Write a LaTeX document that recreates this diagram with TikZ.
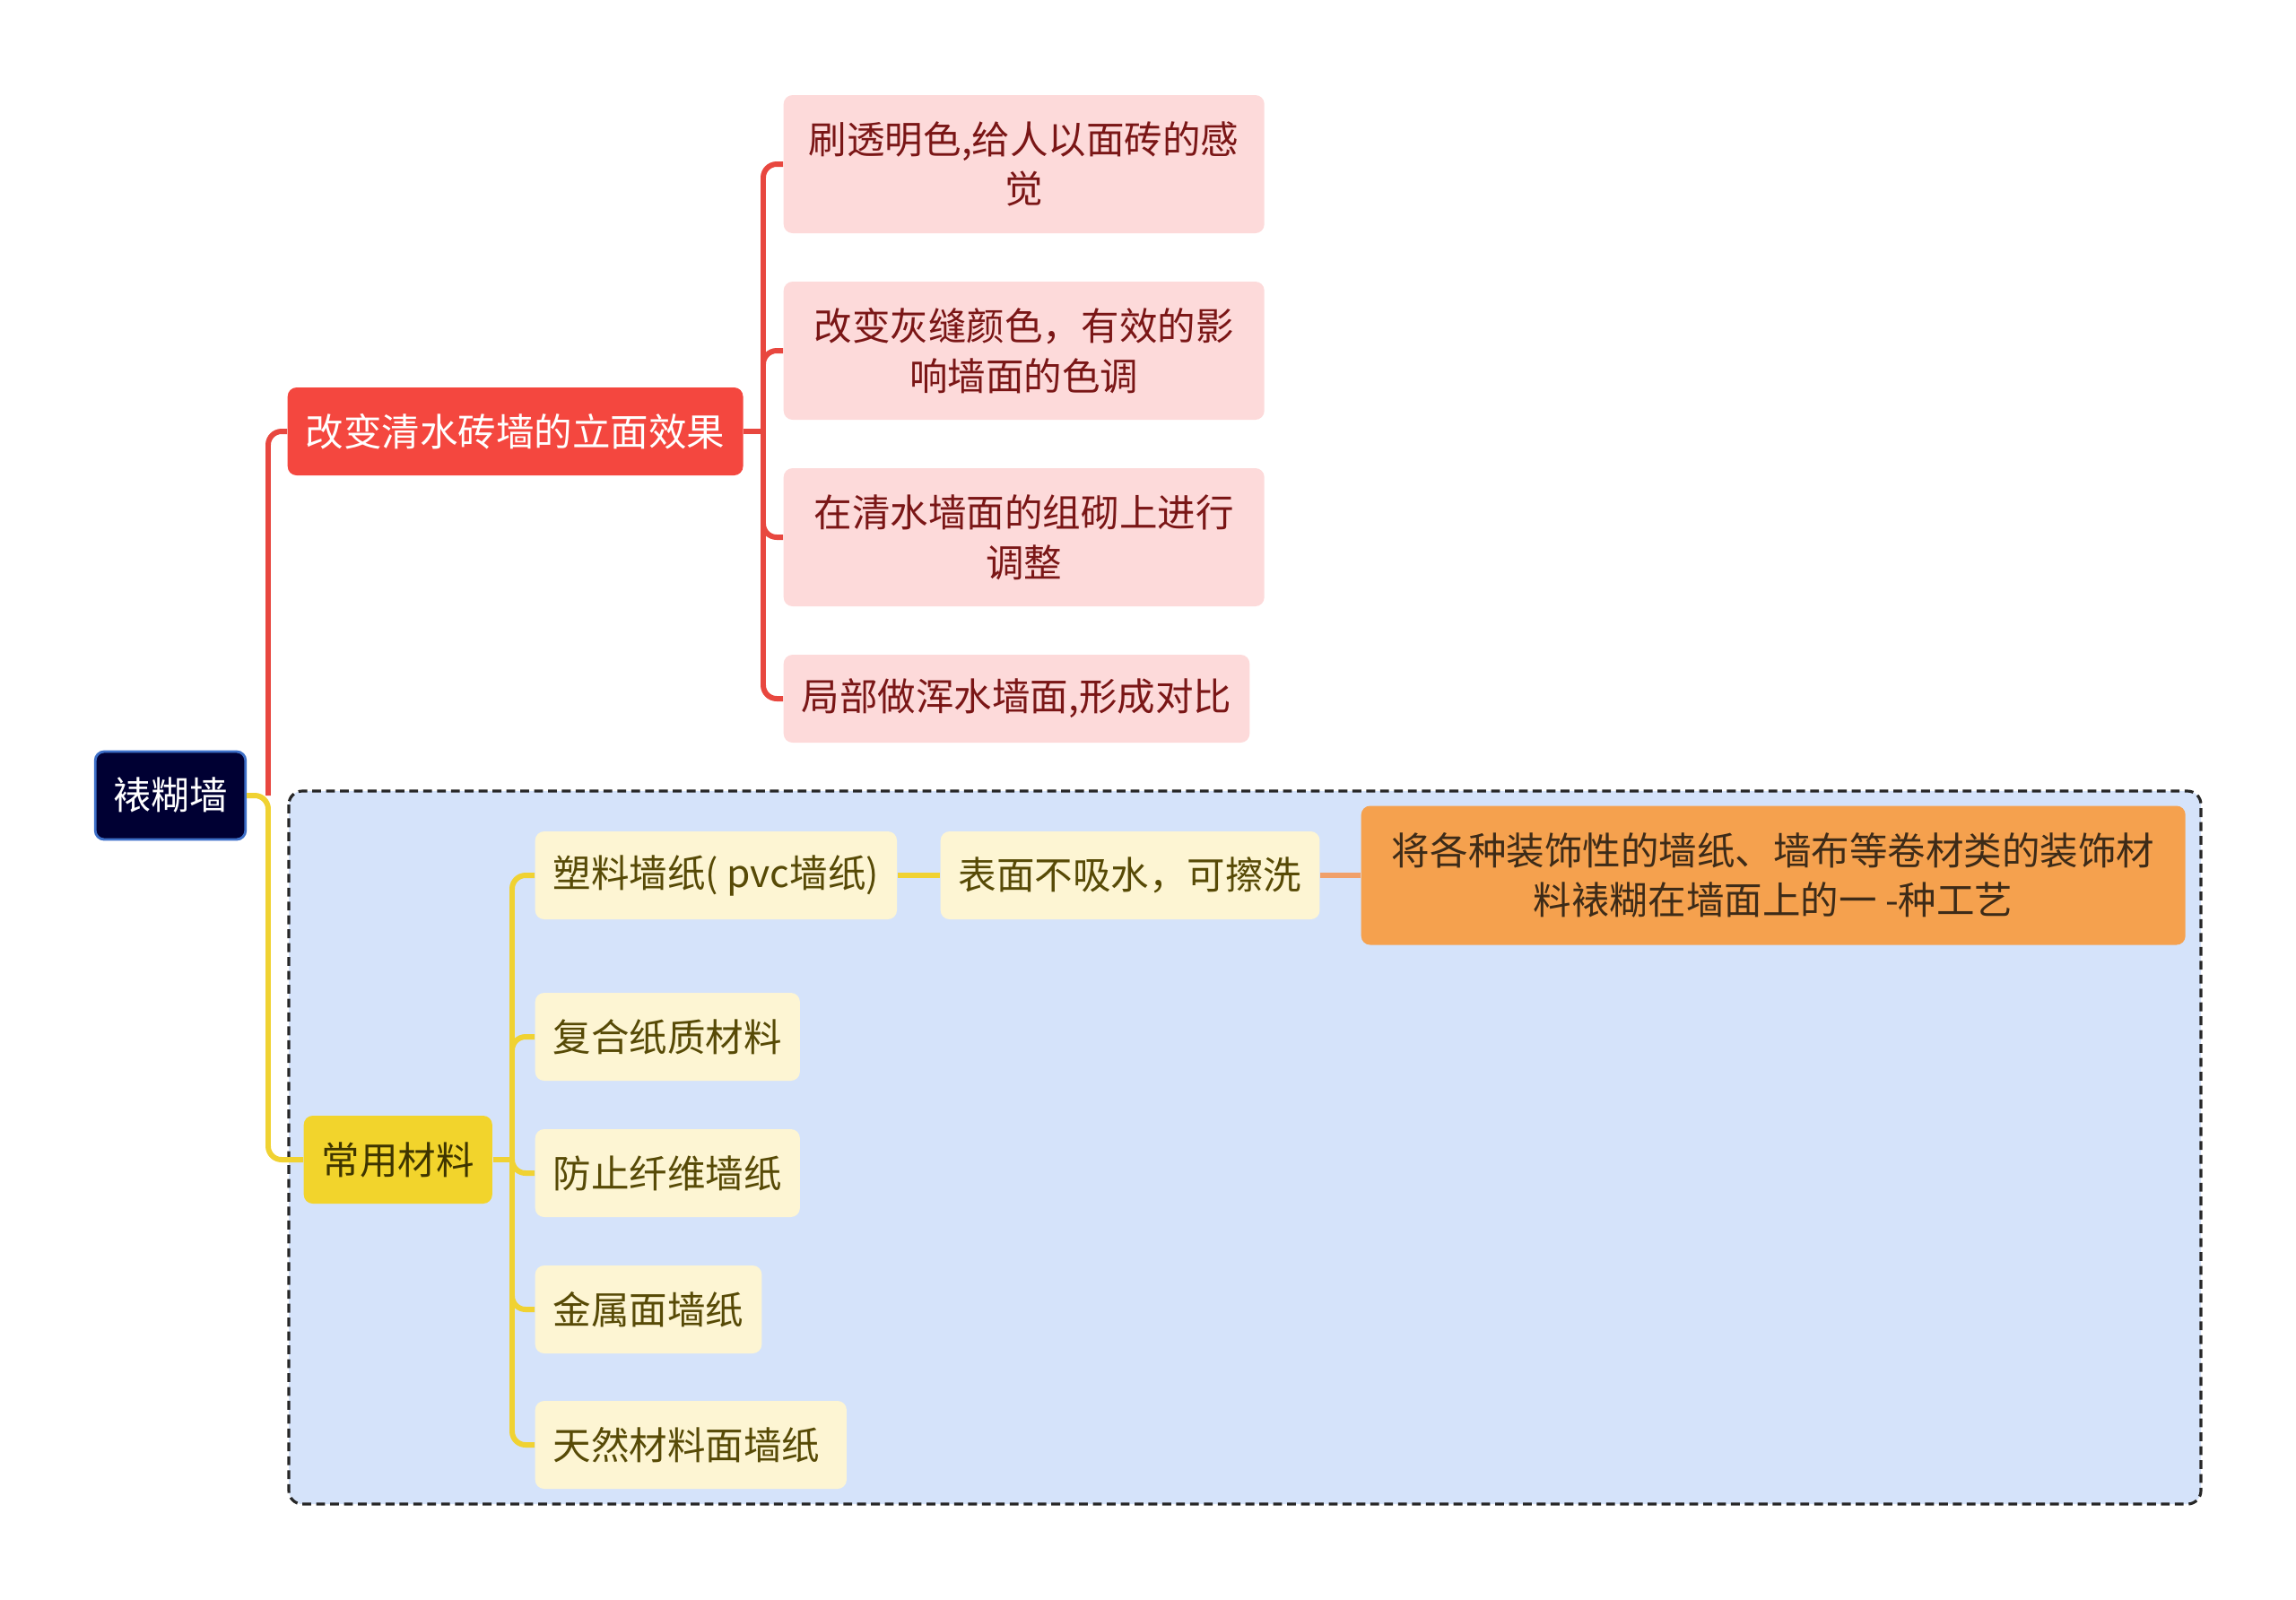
\documentclass[tikz,border=0pt]{standalone}
\usepackage{fontspec}
\setmainfont{Noto Sans CJK SC}

\definecolor{rootfill}{HTML}{000033}
\definecolor{rootedge}{HTML}{3D6FC8}
\definecolor{redfill}{HTML}{F4473F}
\definecolor{redwire}{HTML}{E8473F}
\definecolor{pinkfill}{HTML}{FDDADA}
\definecolor{pinktext}{HTML}{7A1616}
\definecolor{yelfill}{HTML}{F2D42C}
\definecolor{yeltext}{HTML}{3E3500}
\definecolor{yelwire}{HTML}{F0D232}
\definecolor{creamfill}{HTML}{FDF5D3}
\definecolor{creamtext}{HTML}{574A06}
\definecolor{orangefill}{HTML}{F5A14E}
\definecolor{orangewire}{HTML}{F0A06A}
\definecolor{orangetext}{HTML}{3D2B18}
\definecolor{groupfill}{HTML}{D5E3FA}

\begin{document}
\begin{tikzpicture}[
    font=\fontsize{12.1}{15.8}\selectfont,
    box/.style={rounded corners=0.1cm, inner xsep=0.2cm, inner ysep=0.1cm,
        minimum height=0.98cm, align=center},
    rootbox/.style={box, fill=rootfill, draw=rootedge, line width=0.8pt, text=white},
    redbox/.style={box, fill=redfill, text=white, anchor=west},
    pinkbox/.style={box, fill=pinkfill, text=pinktext, anchor=west},
    yelbox/.style={box, fill=yelfill, text=yeltext, anchor=west},
    creambox/.style={box, fill=creamfill, text=creamtext, anchor=west},
    orangebox/.style={box, fill=orangefill, text=orangetext, anchor=west},
    redline/.style={draw=redwire, line width=1.7pt, rounded corners=0.15cm},
    yelline/.style={draw=yelwire, line width=1.7pt, rounded corners=0.15cm},
    orangeline/.style={draw=orangewire, line width=1.7pt}
]

\useasboundingbox (0,0) rectangle (25.6,-17.83);

%% Skupina materiálov - prerušovaný rámik
\draw[fill=groupfill, draw=black!85, line width=0.9pt, dash pattern=on 2.8pt off 1.6pt,
    rounded corners=0.15cm] (3.22,-8.82) rectangle (24.54,-16.77);

%% Koreň
\node[rootbox] (root) at (1.90,-8.87) {裱糊墙};
\coordinate (rootfork) at (2.99,-8.87);

%% Prvá vetva
\node[redbox] (effect) at (3.20,-4.81) {改变清水砖墙的立面效果};
\coordinate (effectfork) at (8.51,-4.81);

\node[pinkbox, minimum width=5.36cm, minimum height=1.54cm] (brush) at (8.73,-1.83)
    {刷透明色,给人以面砖的感\\觉};
\node[pinkbox, minimum width=5.36cm, minimum height=1.54cm] (joint) at (8.73,-3.91)
    {改变灰缝颜色，有效的影\\响墙面的色调};
\node[pinkbox, minimum width=5.36cm, minimum height=1.54cm] (bond) at (8.73,-5.99)
    {在清水墙面的组砌上进行\\调整};
\node[pinkbox] (contrast) at (8.73,-7.79) {局部做浑水墙面,形成对比};

\draw[redline] (rootfork) |- (effect.west);
\draw[redline] (effect.east) -- (effectfork);
\foreach \leaf in {brush, joint, bond, contrast} {
    \draw[redline] (effectfork) |- (\leaf.west);
}

%% Druhá vetva
\node[yelbox] (material) at (3.38,-12.93) {常用材料};
\coordinate (materialfork) at (5.71,-12.93);

\draw[yelline] (root.east) -- (rootfork) |- (material.west);
\draw[yelline] (material.east) -- (materialfork);

\foreach \name/\ypos/\txt in {
    pvc/-9.76/{塑料墙纸( pvc墙纸)},
    paper/-11.56/复合纸质材料,
    fibre/-13.08/防止纤维墙纸,
    metal/-14.60/金属面墙纸,
    natural/-16.11/天然材料面墙纸
} {
    \node[creambox] (\name) at (5.96,\ypos) {\txt};
    \draw[yelline] (materialfork) |- (\name.west);
}

%% Vlastnosť a definícia
\node[creambox] (surface) at (10.48,-9.76) {表面不吸水，可擦洗};
\node[orangebox, minimum width=9.19cm, minimum height=1.55cm] (define) at (15.17,-9.76)
    {将各种装饰性的墙纸、墙布等卷材类的装饰材\\料裱糊在墙面上的一 -种工艺};

\draw[yelline] (pvc.east) -- (surface.west);
\draw[orangeline] (surface.east) -- (define.west);

\end{tikzpicture}
\end{document}
